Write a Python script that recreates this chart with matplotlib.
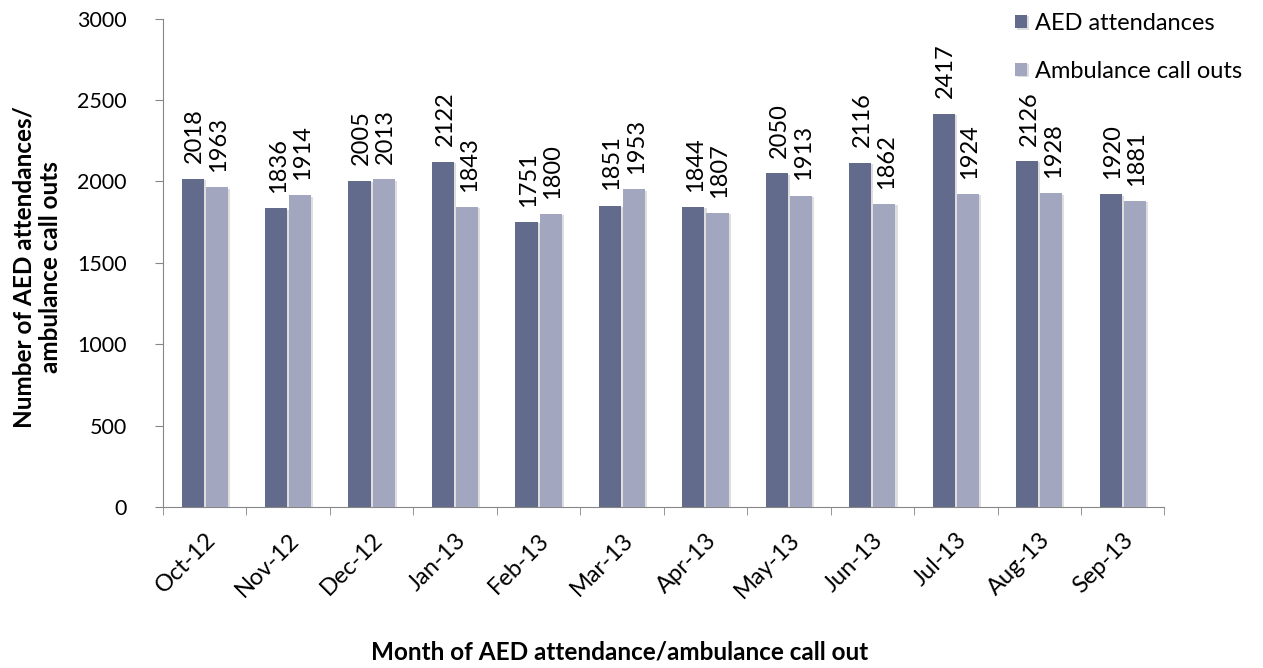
import matplotlib.pyplot as plt
import matplotlib.patheffects as pe
import numpy as np

months = ["Oct-12", "Nov-12", "Dec-12", "Jan-13", "Feb-13", "Mar-13",
          "Apr-13", "May-13", "Jun-13", "Jul-13", "Aug-13", "Sep-13"]
aed = [2018, 1836, 2005, 2122, 1751, 1851, 1844, 2050, 2116, 2417, 2126, 1920]
ambulance = [1963, 1914, 2013, 1843, 1800, 1953, 1807, 1913, 1862, 1924, 1928, 1881]

plt.rcParams["font.family"] = ["Lato", "DejaVu Sans"]

fig = plt.figure(figsize=(12.63, 6.68), dpi=100)
ax = fig.add_axes([0.129, 0.241, 0.793, 0.731])

x = np.arange(len(months))
w = 0.265
shadow = [pe.SimplePatchShadow(offset=(1.5, -1), shadow_rgbFace="#c8c8c8", alpha=0.6), pe.Normal()]
b1 = ax.bar(x - w / 2 - 0.012, aed, w, color="#636b8c", label="AED attendances",
            path_effects=shadow, zorder=3)
b2 = ax.bar(x + w / 2 + 0.012, ambulance, w, color="#a2a7bf", label="Ambulance call outs",
            path_effects=shadow, zorder=3)

for bars, vals in ((b1, aed), (b2, ambulance)):
    for rect, v in zip(bars, vals):
        ax.annotate(str(v), (rect.get_x() + rect.get_width() / 2, v),
                    xytext=(1.5, 11), textcoords="offset points",
                    rotation=90, ha="center", va="bottom", fontsize=17)

ax.set_xlim(-0.5, len(months) - 0.5)
ax.set_ylim(0, 3000)
ax.set_yticks(range(0, 3001, 500))
ax.tick_params(axis="y", labelsize=15.5, length=6, color="#868686", pad=20)
ax.set_xticks(x)
ax.set_xticklabels(months, rotation=45, ha="right", rotation_mode="anchor", fontsize=17)
ax.tick_params(axis="x", length=0, pad=16)
ax.set_xticks(np.arange(-0.5, len(months)), minor=True)
ax.tick_params(axis="x", which="minor", length=6, color="#868686")

for s in ("top", "right"):
    ax.spines[s].set_visible(False)
for s in ("left", "bottom"):
    ax.spines[s].set_color("#868686")

fig.text(37 / 1263, 1 - 267 / 668, "Number of AED attendances/\nambulance call outs",
         rotation=90, ha="center", va="center", fontsize=17.5, fontweight="bold",
         multialignment="center", linespacing=1.2)
fig.text(620 / 1263, 1 - 652 / 668, "Month of AED attendance/ambulance call out", ha="center",
         va="center", fontsize=17.5, fontweight="bold")

fig.legend(handles=[b1, b2], loc="upper left", bbox_to_anchor=(1015 / 1263, 1 - 13 / 668),
           frameon=False, fontsize=17, borderpad=0, borderaxespad=0,
           handlelength=0.5, handleheight=0.5, handletextpad=0.35, labelspacing=1.13)

fig.savefig("out.png", dpi=100)
